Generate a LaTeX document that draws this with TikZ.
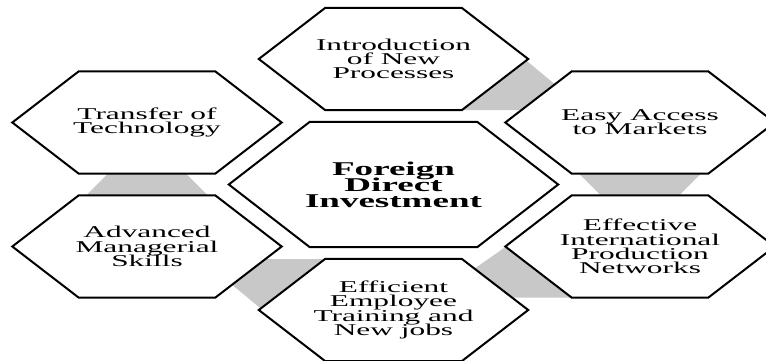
\documentclass[tikz,border=0pt]{standalone}
\usepackage{fontspec}
\setmainfont{Liberation Serif}[FakeStretch=1.9]
\usetikzlibrary{positioning}
\pgfdeclarelayer{links}
\pgfdeclarelayer{hexes}
\pgfsetlayers{links,hexes,main}
\definecolor{linkgray}{RGB}{200,200,200}

\begin{document}
\begin{tikzpicture}[x=1pt, y=-1pt,
    hexbox/.style={minimum width=269pt, minimum height=102pt, inner sep=0pt, align=center,
        font={\fontsize{16.5}{14.2}\selectfont\lineskiplimit=-20pt}},
    hubbox/.style={hexbox, minimum width=329pt, minimum height=125pt,
        font={\fontsize{19.5}{16}\selectfont\bfseries\lineskiplimit=-20pt}},
    hexline/.style={draw=black, line width=2pt, fill=white, line join=miter},
    link/.style={fill=linkgray}
]
    \useasboundingbox (0,0) rectangle (766,360);

    % Hub and the six outer hexagons
    \node[hubbox] (fdi) at (393.5,184.5) {Foreign\\Direct\\Investment};
    \node[hexbox] (intro) at (393.5,59) {Introduction\\of New\\Processes};
    \node[hexbox] (easy) at (640,122.5) {Easy Access\\to Markets};
    \node[hexbox] (effective) at (640,246.5) {Effective\\International\\Production\\Networks};
    \node[hexbox] (efficient) at (393.5,310) {Efficient\\Employee\\Training and\\New jobs};
    \node[hexbox] (advanced) at (147,246.5) {Advanced\\Managerial\\Skills};
    \node[hexbox] (transfer) at (147,122.5) {Transfer of\\Technology};

    % Hexagon outlines
    \begin{pgfonlayer}{hexes}
    \foreach \n/\s in {fdi/81, intro/66.5, easy/66.5, effective/66.5, efficient/66.5, advanced/66.5, transfer/66.5}
        \draw[hexline] (\n.west) -- ([xshift=\s pt]\n.north west) -- ([xshift=-\s pt]\n.north east)
            -- (\n.east) -- ([xshift=-\s pt]\n.south east) -- ([xshift=\s pt]\n.south west) -- cycle;
    \end{pgfonlayer}

    % Gray links between neighbouring hexagons
    \begin{pgfonlayer}{links}
    \fill[link] (520.5,55.7) -- (563,91) -- (535,110) -- (450,110) -- cycle;
    \fill[link] (569,163.5) -- (711,163.5) -- (669,205.5) -- (611,205.5) -- cycle;
    \fill[link] (514,241) -- (460,278.8) -- (495,297.5) -- (585,297.5) -- cycle;
    \fill[link] (266.5,313.3) -- (224,278) -- (252,259) -- (337,259) -- cycle;
    \fill[link] (118,163.5) -- (176,163.5) -- (218,205.5) -- (76,205.5) -- cycle;
    \end{pgfonlayer}
\end{tikzpicture}
\end{document}
